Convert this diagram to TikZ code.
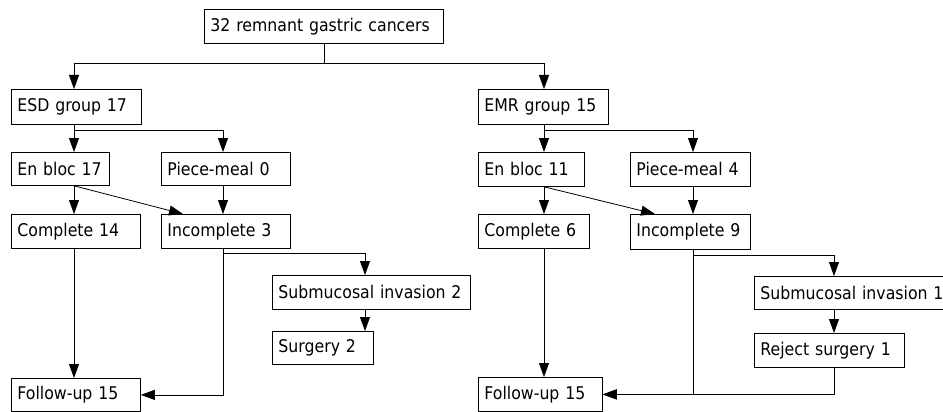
\documentclass[tikz,border=0pt]{standalone}
\usepackage{fontspec}
\setmainfont{DejaVu Sans}[FakeStretch=0.9]
\usetikzlibrary{arrows.meta,calc}
\begin{document}
\begin{tikzpicture}[x=1pt,y=-1pt,
 bx/.style={draw, line width=0.8pt, anchor=north west, inner xsep=6pt, inner ysep=0pt,
   align=left, minimum height=34pt, font=\fontsize{17.5}{20}\selectfont},
 ln/.style={line width=0.8pt},
 arr/.style={ln, -{Triangle[length=14pt,width=10pt]}}]
\useasboundingbox (0,0) rectangle (943,412);
\clip (0,0) rectangle (943,412);
% columns and rows
\coordinate (A) at (74,0);
\coordinate (B) at (223,0);
\coordinate (C) at (365,0);
\coordinate (D) at (544,0);
\coordinate (E) at (693,0);
\coordinate (F) at (834,0);
\coordinate (H0) at (0,63);
\coordinate (H1) at (0,130);
\coordinate (H2) at (0,253);
\coordinate (H3) at (0,255);
% nodes
\node[bx, text width=227pt] (top) at (204,9) {32 remnant gastric cancers};
\node[bx, text width=118pt, minimum height=35pt] (esd) at (11,89) {ESD group 17};
\node[bx, text width=118pt, minimum height=35pt] (emr) at (478,89) {EMR group 15};
\node[bx, text width=86pt, minimum height=33pt] (eb1) at (11,152) {En bloc 17};
\node[bx, text width=117pt, minimum height=33pt] (pm1) at (161,152) {Piece-meal 0};
\node[bx, text width=94pt] (eb2) at (478,152) {En bloc 11};
\node[bx, text width=108pt] (pm2) at (630,152) {Piece-meal 4};
\node[bx, text width=117pt] (c1) at (11,214) {Complete 14};
\node[bx, text width=117pt] (i1) at (161,214) {Incomplete 3};
\node[bx, text width=99pt] (c2) at (478,214) {Complete 6};
\node[bx, text width=108pt, minimum height=35pt] (i2) at (630,214) {Incomplete 9};
\node[bx, text width=186pt] (sm1) at (272,275) {Submucosal invasion 2};
\node[bx, text width=89pt, minimum height=33pt] (sg1) at (272,331) {Surgery 2};
\node[bx, text width=186pt, minimum height=33pt] (sm2) at (754,276) {Submucosal invasion 1};
\node[bx, text width=138pt] (rj2) at (754,333) {Reject surgery 1};
\node[bx, text width=117pt, minimum height=33pt] (f1) at (11,378) {Follow-up 15};
\node[bx, text width=112pt] (f2) at (478,377) {Follow-up 15};
% top split
\draw[ln] (top.south) -- (top.south |- H0);
\draw[arr] (top.south |- H0) -| (esd.north -| A);
\draw[arr] (top.south |- H0) -| (emr.north -| D);
% ESD branch
\draw[arr] (esd.south -| A) -- (eb1.north -| A);
\draw[arr] (A |- H1) -| (pm1.north -| B);
\draw[arr] (eb1.south -| A) -- (c1.north -| A);
\draw[arr] (eb1.south -| A) -- ($(i1.north west)+(22,0)$);
\draw[arr] (pm1.south -| B) -- (i1.north -| B);
\draw[arr] (c1.south -| A) -- (f1.north -| A);
\draw[arr] (i1.south -| B) |- (f1.east);
\draw[arr] (B |- H2) -| (sm1.north -| C);
\draw[arr] (sm1.south -| C) -- (sg1.north -| C);
% EMR branch
\draw[arr] (emr.south -| D) -- (eb2.north -| D);
\draw[arr] (D |- H1) -| (pm2.north -| E);
\draw[arr] (eb2.south -| D) -- (c2.north -| D);
\draw[arr] (eb2.south -| D) -- ($(i2.north west)+(25,0)$);
\draw[arr] (pm2.south -| E) -- (i2.north -| E);
\draw[arr] (c2.south -| D) -- (f2.north -| D);
\draw[arr] (i2.south -| E) |- (f2.east);
\draw[arr] (E |- H3) -| (sm2.north -| F);
\draw[arr] (sm2.south -| F) -- (rj2.north -| F);
\draw[arr] (rj2.south -| F) |- (f2.east);
\end{tikzpicture}
\end{document}
